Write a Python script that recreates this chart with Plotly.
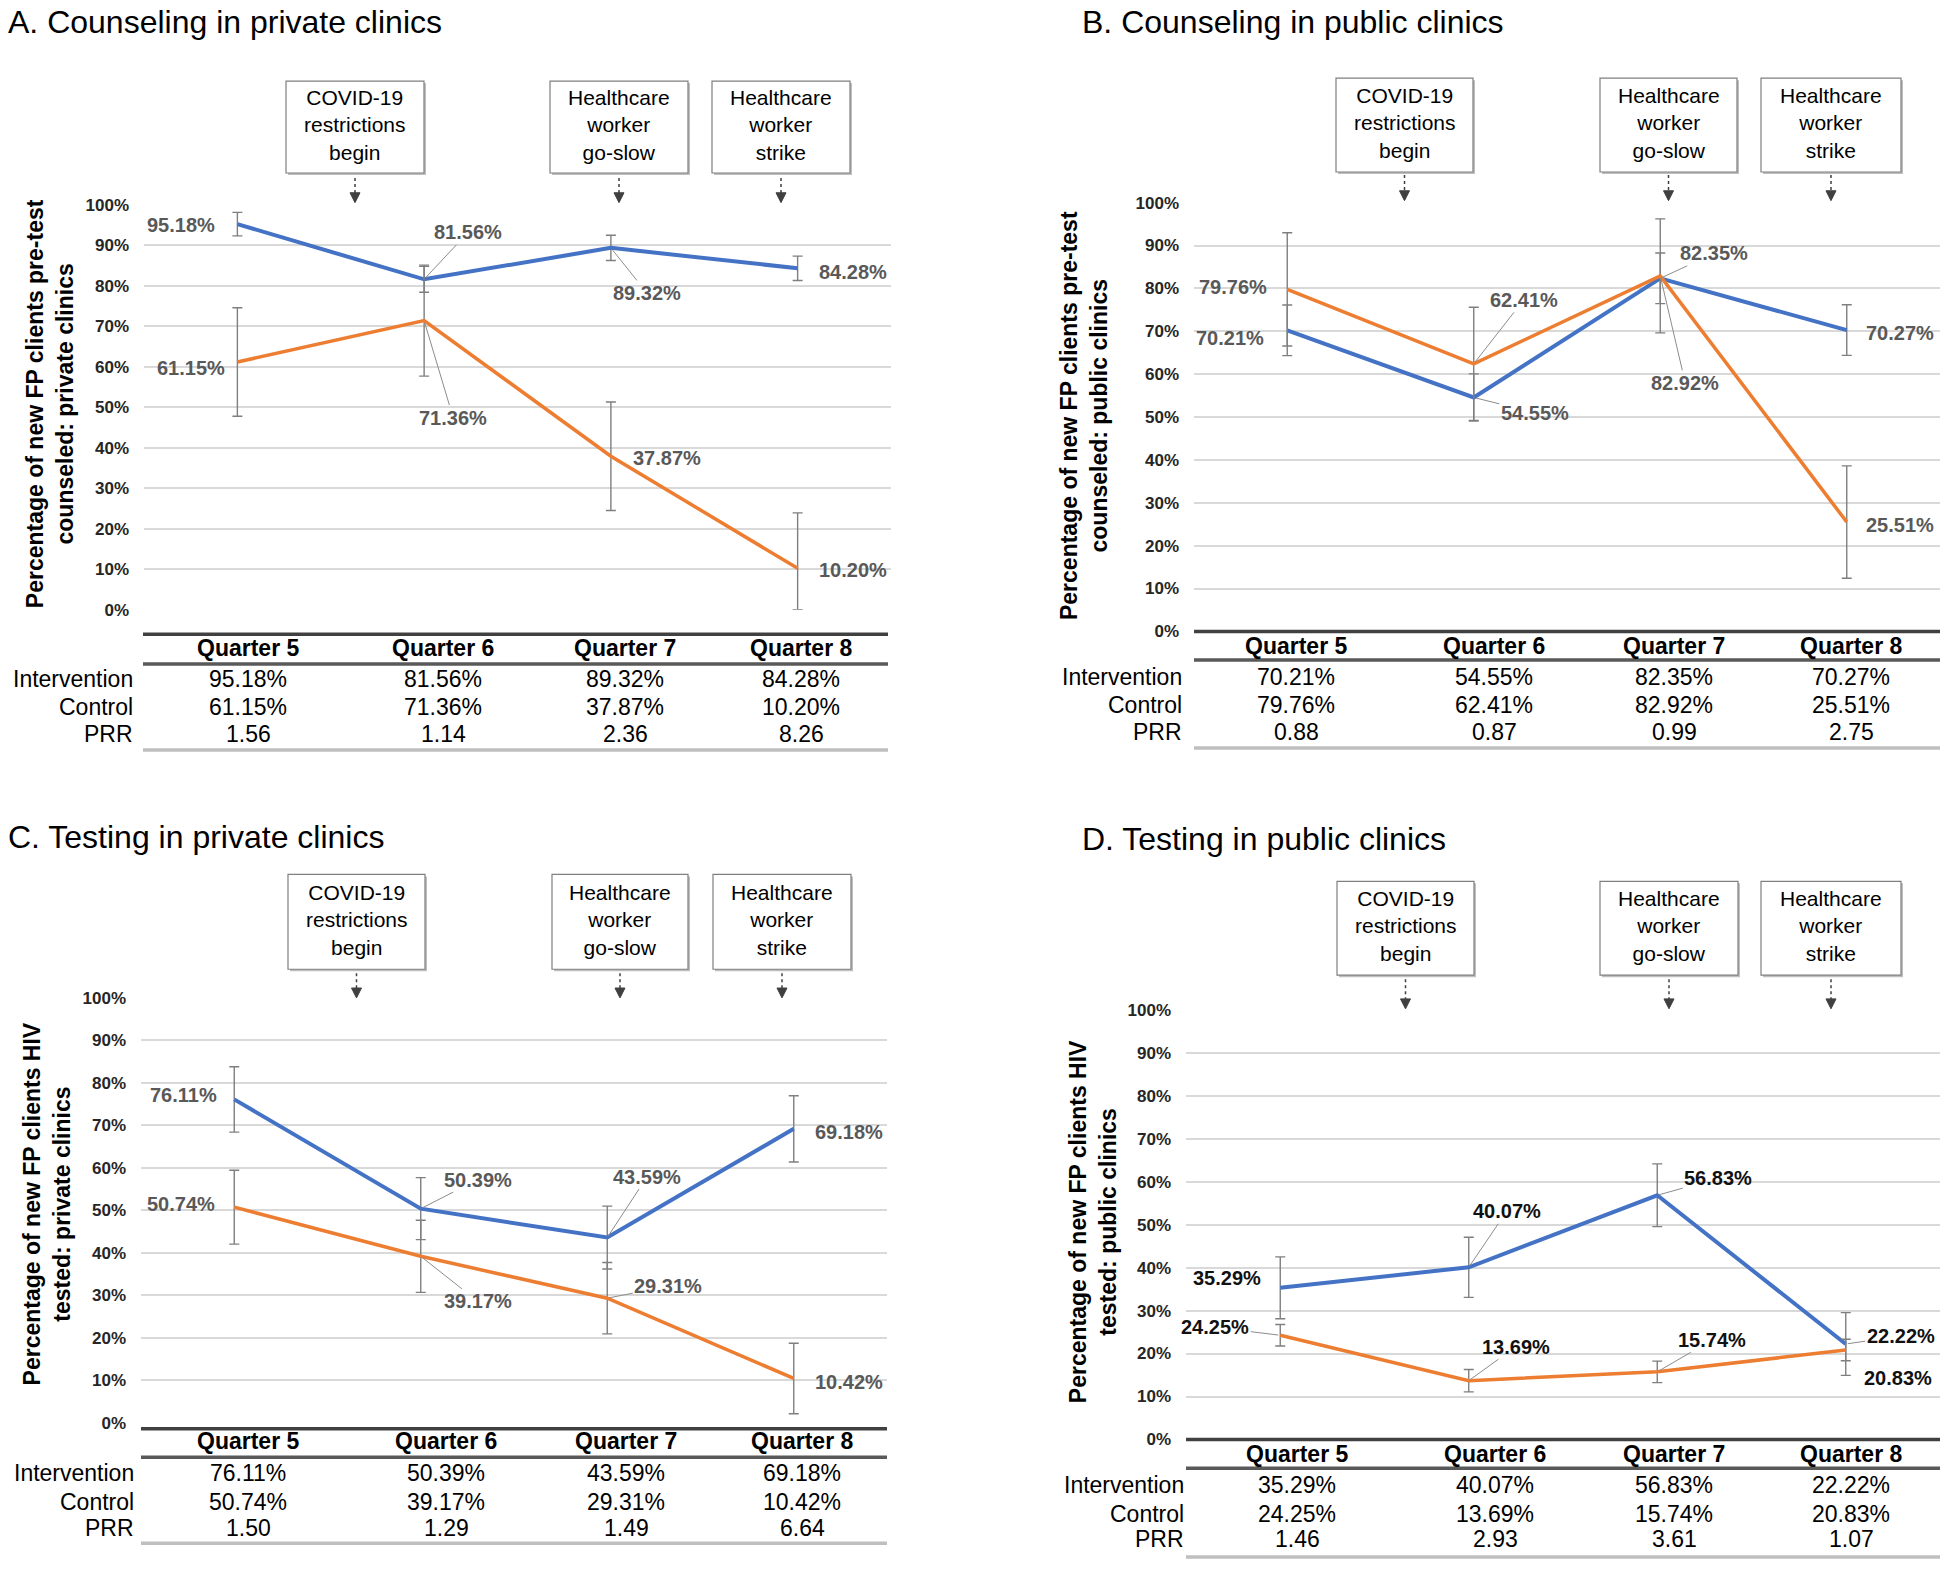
import plotly.graph_objects as go

W, H = 1944, 1572
FONT = "Liberation Sans, Arial, Helvetica, sans-serif"

# ---------------- data ----------------
quarters = ["Quarter 5", "Quarter 6", "Quarter 7", "Quarter 8"]
row_names = ["Intervention", "Control", "PRR"]
tick_values = [0, 10, 20, 30, 40, 50, 60, 70, 80, 90, 100]
tick_labels = ["0%", "10%", "20%", "30%", "40%", "50%", "60%", "70%", "80%", "90%", "100%"]
event_labels = ["COVID-19<br>restrictions<br>begin",
                "Healthcare<br>worker<br>go-slow",
                "Healthcare<br>worker<br>strike"]

titles = ["A. Counseling in private clinics", "B. Counseling in public clinics",
          "C. Testing in private clinics", "D. Testing in public clinics"]
y_titles = ["Percentage of new FP clients pre-test<br>counseled: private clinics",
            "Percentage of new FP clients pre-test<br>counseled: public clinics",
            "Percentage of new FP clients HIV<br>tested: private clinics",
            "Percentage of new FP clients HIV<br>tested: public clinics"]

intervention_A = [95.18, 81.56, 89.32, 84.28]
control_A = [61.15, 71.36, 37.87, 10.20]
prr_A = [1.56, 1.14, 2.36, 8.26]
int_err_A = [2.9, 3.2, 3.1, 3.0]
ctrl_err_up_A = [13.4, 13.7, 13.4, 13.7]
ctrl_err_dn_A = [13.4, 13.7, 13.4, 10.2]

intervention_B = [70.21, 54.55, 82.35, 70.27]
control_B = [79.76, 62.41, 82.92, 25.51]
prr_B = [0.88, 0.87, 0.99, 2.75]
int_err_B = [5.9, 5.5, 5.9, 5.9]
ctrl_err_up_B = [13.2, 13.2, 13.3, 13.1]
ctrl_err_dn_B = [13.2, 13.2, 13.3, 13.1]

intervention_C = [76.11, 50.39, 43.59, 69.18]
control_C = [50.74, 39.17, 29.31, 10.42]
prr_C = [1.50, 1.29, 1.49, 6.64]
int_err_C = [7.7, 7.3, 7.4, 7.8]
ctrl_err_up_C = [8.7, 8.5, 8.4, 8.3]
ctrl_err_dn_C = [8.7, 8.5, 8.4, 8.3]

intervention_D = [35.29, 40.07, 56.83, 22.22]
control_D = [24.25, 13.69, 15.74, 20.83]
prr_D = [1.46, 2.93, 3.61, 1.07]
int_err_D = [7.2, 7.0, 7.3, 7.3]
ctrl_err_up_D = [2.5, 2.6, 2.5, 2.5]
ctrl_err_dn_D = [2.5, 2.6, 2.5, 2.5]

data = [
    (intervention_A, control_A, prr_A, int_err_A, ctrl_err_up_A, ctrl_err_dn_A),
    (intervention_B, control_B, prr_B, int_err_B, ctrl_err_up_B, ctrl_err_dn_B),
    (intervention_C, control_C, prr_C, int_err_C, ctrl_err_up_C, ctrl_err_dn_C),
    (intervention_D, control_D, prr_D, int_err_D, ctrl_err_up_D, ctrl_err_dn_D),
]

# ---------------- layout (pixel positions) ----------------
geo = [
    dict(x0=144, x1=891, y0=608, y100=198, title=(6, 13), ytitle=(50, 400),
         boxes=[(286, 424), (550, 688), (712, 850)], box_y=(73, 166), arr_y=(171, 196),
         table=dict(top=633, head=647, line2=663, rows=[678, 707, 734], bottom=750,
                    tx0=143, tx1=888, cols=[248, 443, 625, 801], lab=135),
         lab_color="#595959",
         lab_int=[(-56, 1, 0), (44, -47, 1), (36, 45, 1), (55, 4, 0)],
         lab_ctl=[(-46, 6, 0), (29, 97, 1), (56, 2, 0), (55, 2, 0)]),
    dict(x0=1194, x1=1940, y0=630, y100=196, title=(1080, 13), ytitle=(1084, 412),
         boxes=[(1336, 1473), (1600, 1737), (1761, 1901)], box_y=(70, 165), arr_y=(168, 194),
         table=dict(top=630, head=645, line2=659, rows=[676, 705, 732], bottom=748,
                    tx0=1194, tx1=1940, cols=[1296, 1494, 1674, 1851], lab=1184),
         lab_color="#595959",
         lab_int=[(-57, 8, 0), (61, 15, 1), (54, -25, 1), (53, 3, 0)],
         lab_ctl=[(-54, -2, 0), (50, -64, 1), (25, 107, 1), (53, 3, 0)]),
    dict(x0=141, x1=887, y0=1431, y100=1001, title=(6, 838), ytitle=(47, 1210),
         boxes=[(288, 425), (552, 688), (713, 851)], box_y=(876, 972), arr_y=(976, 1001),
         table=dict(top=1437, head=1450, line2=1466, rows=[1482, 1511, 1538], bottom=1553,
                    tx0=141, tx1=887, cols=[248, 446, 626, 802], lab=136),
         lab_color="#595959",
         lab_int=[(-51, -4, 0), (57, -29, 1), (40, -61, 1), (55, 3, 0)],
         lab_ctl=[(-53, -3, 0), (57, 45, 1), (61, -12, 1), (55, 4, 0)]),
    dict(x0=1186, x1=1940, y0=1448, y100=1013, title=(1080, 840), ytitle=(1093, 1228),
         boxes=[(1337, 1474), (1600, 1738), (1761, 1901)], box_y=(883, 978), arr_y=(982, 1012),
         table=dict(top=1448, head=1463, line2=1477, rows=[1494, 1523, 1549], bottom=1567,
                    tx0=1186, tx1=1940, cols=[1297, 1495, 1674, 1851], lab=1186),
         lab_color="#111111",
         lab_int=[(-53, -10, 0), (38, -56, 1), (61, -17, 1), (55, -8, 1)],
         lab_ctl=[(-65, -8, 1), (47, -34, 1), (55, -32, 1), (52, 28, 0)]),
]

BLUE = "#4472C4"
ORANGE = "#ED7D31"


def px(x):
    return x / W


def py(y):
    return 1 - y / H


fig = go.Figure()
shapes = []
annotations = []
layout_axes = {}

for i, (g, d) in enumerate(zip(geo, data)):
    interv, ctrl, prr, ie, cu, cd = d
    sfx = "" if i == 0 else str(i + 1)
    xa, ya = "x" + sfx, "y" + sfx

    layout_axes["xaxis" + sfx] = dict(
        domain=[px(g["x0"]), px(g["x1"])], anchor=ya, type="category",
        range=[-0.5, 3.5], showticklabels=False, showgrid=False, zeroline=False,
        showline=False, ticks="", fixedrange=True)
    layout_axes["yaxis" + sfx] = dict(
        domain=[py(g["y0"]), py(g["y100"])], anchor=xa, range=[0, 100],
        tickmode="array", tickvals=tick_values, ticktext=tick_labels,
        tickfont=dict(family=FONT, size=17, color="#262626", weight="bold"),
        showgrid=True, gridcolor="#d9d9d9", gridwidth=2, zeroline=False,
        showline=False, ticks="", ticklabelstandoff=14, fixedrange=True)

    err_style = dict(type="data", symmetric=True, color="#7f7f7f", thickness=1.4, width=5)
    fig.add_trace(go.Scatter(
        x=quarters, y=interv, mode="lines", xaxis=xa, yaxis=ya,
        line=dict(color=BLUE, width=4), showlegend=False, hoverinfo="skip",
        error_y=dict(array=ie, **err_style)))
    err_c = dict(err_style)
    err_c["symmetric"] = False
    fig.add_trace(go.Scatter(
        x=quarters, y=ctrl, mode="lines", xaxis=xa, yaxis=ya,
        line=dict(color=ORANGE, width=3.5), showlegend=False, hoverinfo="skip",
        error_y=dict(array=cu, arrayminus=cd, **err_c)))

    # data labels
    for series, offs in ((interv, g["lab_int"]), (ctrl, g["lab_ctl"])):
        for q, v, (dx, dy, lead) in zip(quarters, series, offs):
            txt = "<b>%.2f%%</b>" % v
            f = dict(family=FONT, size=20, color=g["lab_color"])
            if lead:
                annotations.append(dict(
                    x=q, y=v, xref=xa, yref=ya, text=txt, showarrow=True,
                    ax=dx, ay=dy, arrowhead=0, arrowwidth=1, arrowcolor="#8c8c8c",
                    standoff=2, font=f))
            else:
                annotations.append(dict(
                    x=q, y=v, xref=xa, yref=ya, text=txt, showarrow=False,
                    xshift=dx, yshift=-dy, font=f))

    # panel title
    tx, ty = g["title"]
    annotations.append(dict(x=px(tx), y=py(ty), xref="paper", yref="paper",
                            xanchor="left", yanchor="middle", showarrow=False,
                            text=titles[i], font=dict(family=FONT, size=32, color="#000")))
    # y axis title
    yx, yy = g["ytitle"]
    annotations.append(dict(x=px(yx), y=py(yy), xref="paper", yref="paper",
                            xanchor="center", yanchor="middle", showarrow=False,
                            textangle=-90, text="<b>" + y_titles[i] + "</b>",
                            font=dict(family=FONT, size=23, color="#000")))

    # event boxes and dotted arrows
    by0, by1 = g["box_y"]
    ay0, ay1 = g["arr_y"]
    for (bx0, bx1), lbl in zip(g["boxes"], event_labels):
        shapes.append(dict(type="rect", xref="paper", yref="paper",
                           x0=px(bx0 + 2), x1=px(bx1 + 2), y0=py(by1 + 2), y1=py(by0 + 2),
                           line=dict(width=0), fillcolor="#bfbfbf"))
        shapes.append(dict(type="rect", xref="paper", yref="paper",
                           x0=px(bx0), x1=px(bx1), y0=py(by1), y1=py(by0),
                           line=dict(color="#7f7f7f", width=1.2), fillcolor="white"))
        cx = (bx0 + bx1) / 2
        annotations.append(dict(x=px(cx), y=py((by0 + by1) / 2 - 2), xref="paper", yref="paper",
                                xanchor="center", yanchor="middle", showarrow=False,
                                text=lbl, font=dict(family=FONT, size=21, color="#000")))
        shapes.append(dict(type="line", xref="paper", yref="paper",
                           x0=px(cx), x1=px(cx), y0=py(ay0), y1=py(ay1 - 9),
                           line=dict(color="#404040", width=1.5, dash="dot")))
        shapes.append(dict(type="path", xref="paper", yref="paper",
                           path="M %f %f L %f %f L %f %f Z" % (
                               px(cx - 5), py(ay1 - 10), px(cx + 5), py(ay1 - 10),
                               px(cx), py(ay1)),
                           line=dict(color="#404040", width=1), fillcolor="#404040"))

    # table
    t = g["table"]
    for yline, col, wdt in ((t["top"], "#404040", 3.5), (t["line2"], "#595959", 3.5),
                            (t["bottom"], "#bfbfbf", 3.5)):
        shapes.append(dict(type="line", xref="paper", yref="paper",
                           x0=px(t["tx0"]), x1=px(t["tx1"]), y0=py(yline), y1=py(yline),
                           line=dict(color=col, width=wdt)))
    for q, cxp in zip(quarters, t["cols"]):
        annotations.append(dict(x=px(cxp), y=py(t["head"]), xref="paper", yref="paper",
                                xanchor="center", yanchor="middle", showarrow=False,
                                text="<b>" + q + "</b>",
                                font=dict(family=FONT, size=23, color="#000")))
    rows = [["%.2f%%" % v for v in interv], ["%.2f%%" % v for v in ctrl],
            ["%.2f" % v for v in prr]]
    for rname, rvals, ry in zip(row_names, rows, t["rows"]):
        annotations.append(dict(x=px(t["lab"]), y=py(ry), xref="paper", yref="paper",
                                xanchor="right", yanchor="middle", showarrow=False,
                                text=rname, font=dict(family=FONT, size=23, color="#000")))
        for val, cxp in zip(rvals, t["cols"]):
            annotations.append(dict(x=px(cxp), y=py(ry), xref="paper", yref="paper",
                                    xanchor="center", yanchor="middle", showarrow=False,
                                    text=val, font=dict(family=FONT, size=23, color="#000")))

fig.update_layout(
    width=W, height=H, margin=dict(l=0, r=0, t=0, b=0),
    paper_bgcolor="white", plot_bgcolor="white",
    font=dict(family=FONT), shapes=shapes, annotations=annotations,
    **layout_axes)

fig.write_html("out.html", config={"displayModeBar": False},
               post_script="document.body.style.margin='0';")
